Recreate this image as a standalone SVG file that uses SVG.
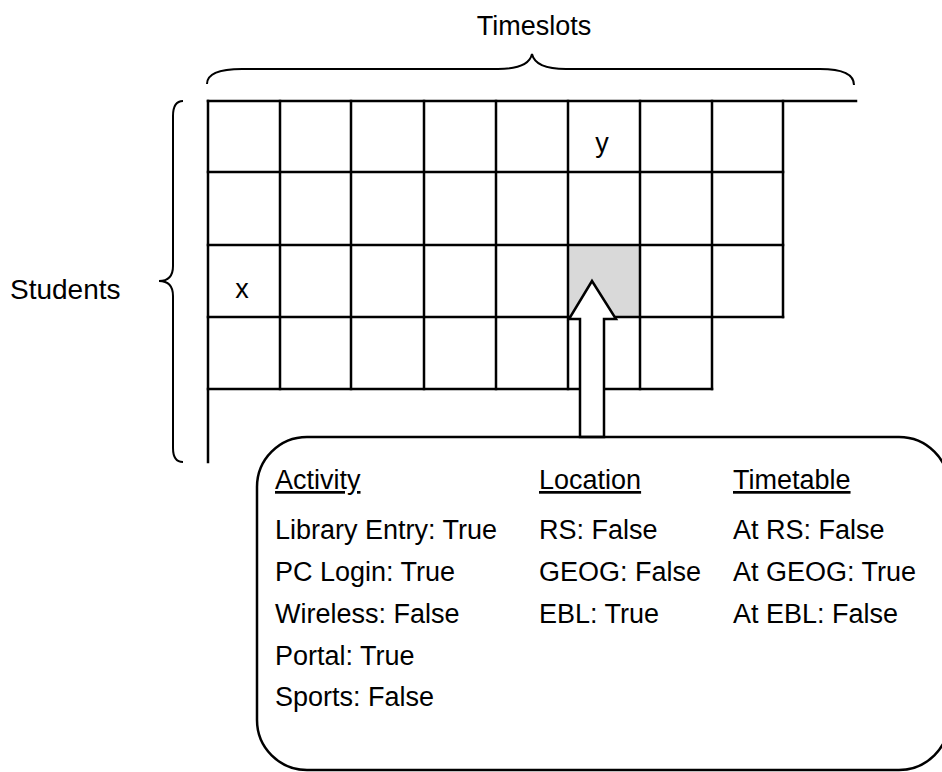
<svg xmlns="http://www.w3.org/2000/svg" width="942" height="772" viewBox="0 0 942 772">
<style>
  .ln { stroke: #000; stroke-width: 2.5; fill: none; stroke-linecap: square; }
  .br { stroke: #000; stroke-width: 2; fill: none; }
  .t { font-family: "Liberation Sans", Arial, sans-serif; font-size: 27px; fill: #000; }
  .u { text-decoration: underline; }
</style>
<rect width="942" height="772" fill="#fff"/>
<g id="label-timeslots">
  <text class="t" x="534" y="35" text-anchor="middle">Timeslots</text>
  <path class="br" d="M207,84 C207,73 222,69 242,69 L498,69 C520,69 530,63 532,54 C534,63 544,69 566,69 L820,69 C842,69 854,74 854,85"/>
</g>
<g id="label-students">
  <text class="t" x="10" y="299" style="font-size:28px">Students</text>
  <path class="br" d="M183,101 C176,101 173,106 173,116 L173,266 C173,276 168,281 159,281 C168,281 173,286 173,296 L173,448 C173,457 176,462 183,462"/>
</g>
<g id="grid">
  <rect x="568" y="245" width="72" height="72" fill="#d9d9d9"/>
  <path class="ln" d="M208,101 H856 M208,172 H783 M208,245 H783 M208,317 H783 M208,389 H580 M604,389 H712"/>
  <path class="ln" d="M208,101 V462 M280,101 V389 M351,101 V389 M424,101 V389 M496,101 V389 M568,101 V389 M640,101 V389 M712,101 V389 M783,101 V317"/>
  <text class="t" x="242" y="298" text-anchor="middle">x</text>
  <text class="t" x="602" y="152" text-anchor="middle">y</text>
</g>
<g id="connectors">
  <polygon points="592,281 616,319 604,319 604,437 580,437 580,319 569,319" fill="#fff" stroke="#000" stroke-width="2.5" stroke-linejoin="miter"/>
</g>
<g id="detail-box">
  <rect x="257" y="437" width="692" height="333" rx="50" ry="50" fill="none" stroke="#000" stroke-width="2.5"/>
  <text class="t u" x="275" y="489">Activity</text>
  <text class="t" x="275" y="539">Library Entry: True</text>
  <text class="t" x="275" y="581">PC Login: True</text>
  <text class="t" x="275" y="623">Wireless: False</text>
  <text class="t" x="275" y="665">Portal: True</text>
  <text class="t" x="275" y="706">Sports: False</text>
  <text class="t u" x="539" y="489">Location</text>
  <text class="t" x="539" y="539">RS: False</text>
  <text class="t" x="539" y="581">GEOG: False</text>
  <text class="t" x="539" y="623">EBL: True</text>
  <text class="t u" x="733" y="489">Timetable</text>
  <text class="t" x="733" y="539">At RS: False</text>
  <text class="t" x="733" y="581">At GEOG: True</text>
  <text class="t" x="733" y="623">At EBL: False</text>
</g>
</svg>
